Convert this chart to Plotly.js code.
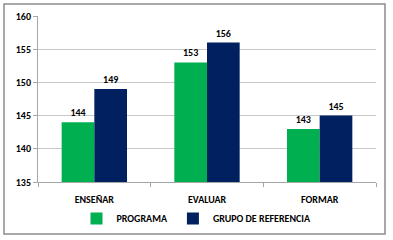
<!DOCTYPE html>
<html>
<head>
<meta charset="utf-8">
<script src="https://cdn.plot.ly/plotly-3.0.1.min.js"></script>
<style>
html,body{margin:0;padding:0;background:#fff;}
#chart{width:393px;height:240px;}
</style>
</head>
<body>
<div id="chart"></div>
<script>
const categories = ["ENSEÑAR", "EVALUAR", "FORMAR"];
const programa = [144, 153, 143];
const grupoReferencia = [149, 156, 145];
const seriesNames = ["PROGRAMA", "GRUPO DE REFERENCIA"];
const yTicks = [135, 140, 145, 150, 155, 160];

const labelFont = {family: "Carlito, Liberation Sans, Arial, sans-serif", size: 10, color: "#000", weight: "bold"};

const traces = [
  {type: "bar", name: seriesNames[0], x: categories, y: programa, marker: {color: "#00B050"},
   text: programa.map(String), textposition: "outside", textfont: labelFont, cliponaxis: false},
  {type: "bar", name: seriesNames[1], x: categories, y: grupoReferencia, marker: {color: "#002060"},
   text: grupoReferencia.map(String), textposition: "outside", textfont: labelFont, cliponaxis: false}
];

const layout = {
  width: 393, height: 240,
  margin: {l: 38, r: 17, t: 16, b: 58},
  paper_bgcolor: "#fff", plot_bgcolor: "#fff",
  font: labelFont,
  barmode: "group", bargap: 0.42, bargroupgap: 0,
  showlegend: true,
  legend: {orientation: "h", x: 0.5, xref: "container", xanchor: "center", y: 0.09, yref: "container", yanchor: "middle",
           font: labelFont, itemwidth: 30, tracegroupgap: 0},
  xaxis: {type: "category", showline: true, linecolor: "#A6A6A6", linewidth: 1, ticks: "outside", tickson: "boundaries",
          ticklen: 4, tickcolor: "#A6A6A6", tickfont: labelFont, showgrid: false, ticklabelstandoff: 8},
  yaxis: {range: [135, 160], tickvals: yTicks, showline: true, linecolor: "#A6A6A6", ticks: "outside", ticklen: 4,
          tickcolor: "#A6A6A6", gridcolor: "#C8C8C8", tickfont: labelFont, zeroline: false},
  shapes: [
    {type: "rect", xref: "paper", yref: "paper", x0: -0.1006, x1: 1.0266, y0: -0.313, y1: 1.072,
     line: {color: "#8C8C8C", width: 1.5}, fillcolor: "rgba(0,0,0,0)", layer: "below"}
  ]
};

Plotly.newPlot("chart", traces, layout, {staticPlot: true, displayModeBar: false});
</script>
</body>
</html>
